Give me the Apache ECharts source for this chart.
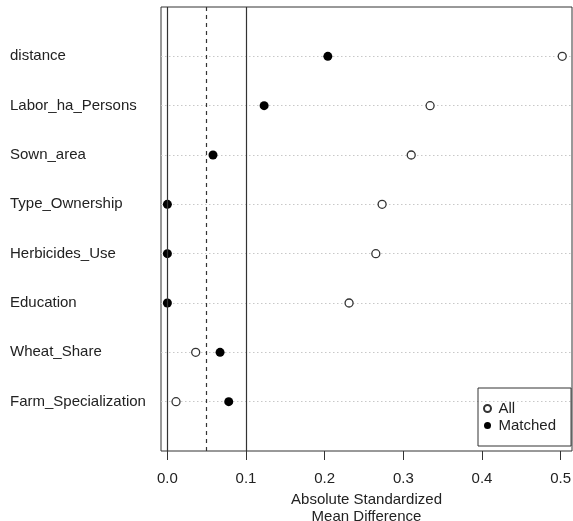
<!DOCTYPE html>
<html>
<head>
<meta charset="utf-8">
<script src="https://cdn.jsdelivr.net/npm/echarts@6/dist/echarts.min.js"></script>
<style>
  html, body { margin: 0; padding: 0; background: #fff; }
  #main { width: 573px; height: 521px; }
</style>
</head>
<body>
<div id="main"></div>
<script>
// covariates, top to bottom
var categories = ['distance', 'Labor_ha_Persons', 'Sown_area', 'Type_Ownership',
  'Herbicides_Use', 'Education', 'Wheat_Share', 'Farm_Specialization']
var allValues = [0.502, 0.334, 0.310, 0.273, 0.265, 0.231, 0.036, 0.011]
var matchedValues = [0.204, 0.123, 0.058, 0.0, 0.0, 0.0, 0.067, 0.078]
var xTicks = [0, 0.1, 0.2, 0.3, 0.4, 0.5]
var refLines = [0, 0.05, 0.1]

var font = "'Liberation Sans', Arial, sans-serif"
var n = categories.length

function toPoints(values) {
  return values.map(function (v, i) { return [v, n - i] })
}

var option = {
  backgroundColor: '#fff',
  animation: false,
  textStyle: { fontFamily: font },
  grid: {
    left: 161, width: 411, top: 7, height: 444,
    outerBoundsMode: 'none',
    show: true,
    borderColor: '#333',
    borderWidth: 1
  },
  legend: {
    orient: 'vertical',
    left: 478,
    top: 388,
    data: ['All', 'Matched'],
    padding: [13, 15, 13, 5],
    borderColor: '#333',
    borderWidth: 1,
    itemWidth: 12,
    itemHeight: 7,
    itemGap: 2,
    textStyle: { fontSize: 15, lineHeight: 15, color: '#222', fontFamily: font }
  },
  xAxis: {
    type: 'value',
    min: -0.0081,
    max: 0.5144,
    name: 'Absolute Standardized\nMean Difference',
    nameLocation: 'middle',
    nameGap: 33,
    nameTextStyle: { fontSize: 15, lineHeight: 17, color: '#222', fontFamily: font },
    axisLine: { show: false },
    splitLine: { show: false },
    axisTick: {
      show: true,
      customValues: xTicks,
      length: 9,
      lineStyle: { color: '#333', width: 1 }
    },
    axisLabel: {
      customValues: xTicks,
      formatter: function (v) { return v.toFixed(1) },
      fontSize: 15,
      color: '#222',
      margin: 20,
      fontFamily: font
    }
  },
  yAxis: {
    type: 'value',
    min: 0,
    max: n + 1,
    interval: 1,
    axisLine: { show: false },
    axisTick: { show: false },
    axisLabel: {
      showMinLabel: false,
      showMaxLabel: false,
      align: 'left',
      margin: 151,
      padding: [3, 0, 0, 0],
      fontSize: 15,
      color: '#222',
      fontFamily: font,
      formatter: function (v) {
        return (v >= 1 && v <= n) ? categories[n - v] : ''
      }
    },
    splitLine: {
      show: true,
      showMinLine: false,
      showMaxLine: false,
      lineStyle: { color: '#c8c8c8', width: 1, type: [1.5, 2.5] }
    }
  },
  series: [{
    // reference lines at 0, 0.05 and 0.1
    name: 'ref',
    type: 'scatter',
    data: [],
    z: 1,
    markLine: {
      silent: true,
      symbol: ['none', 'none'],
      label: { show: false },
      data: refLines.map(function (v) {
        return {
          xAxis: v,
          lineStyle: {
            color: '#333',
            width: 1.2,
            type: v === 0.05 ? [4, 4] : 'solid'
          }
        }
      })
    }
  }, {
    name: 'All',
    type: 'scatter',
    z: 3,
    symbol: 'circle',
    symbolSize: 8,
    itemStyle: { color: '#fff', borderColor: '#333', borderWidth: 1.3, opacity: 1 },
    data: toPoints(allValues)
  }, {
    name: 'Matched',
    type: 'scatter',
    z: 4,
    symbol: 'circle',
    symbolSize: 9,
    itemStyle: { color: '#000', opacity: 1 },
    data: toPoints(matchedValues)
  }]
}

var chart = echarts.init(document.getElementById('main'), null, { renderer: 'canvas' })
chart.setOption(option)
</script>
</body>
</html>
